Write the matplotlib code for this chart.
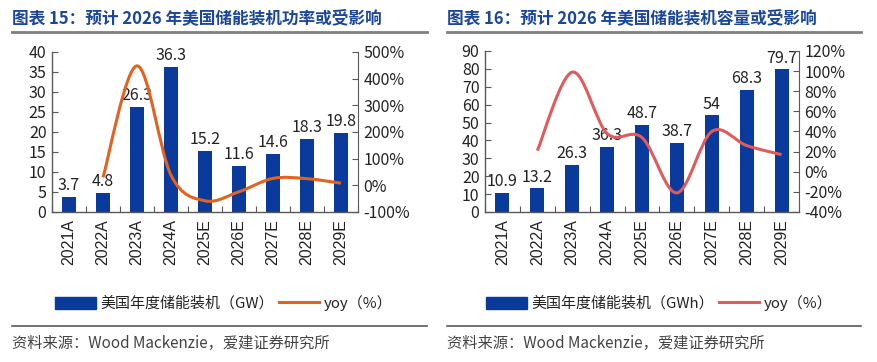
import matplotlib
matplotlib.use("Agg")
import matplotlib.pyplot as plt
from matplotlib.path import Path
from matplotlib.patches import PathPatch, Patch
from matplotlib.lines import Line2D

plt.rcParams['font.family'] = ['Noto Sans CJK SC', 'DejaVu Sans']

years = ['2021A', '2022A', '2023A', '2024A', '2025E', '2026E', '2027E', '2028E', '2029E']
power_gw = [3.7, 4.8, 26.3, 36.3, 15.2, 11.6, 14.6, 18.3, 19.8]
power_yoy = [None, 30, 448, 38, -58, -24, 26, 25, 8]
cap_gwh = [10.9, 13.2, 26.3, 36.3, 48.7, 38.7, 54, 68.3, 79.7]
cap_yoy = [None, 21, 99, 38, 34, -21, 40, 26, 17]

W, H = 877, 362
fig = plt.figure(figsize=(W / 100, H / 100), dpi=100)

BAR = '#0A3A9C'
AX = '#595959'
TITLE_C = '#1B479B'
TXT = '#222222'


def px(x0, y0, x1, y1):
    return [x0 / W, 1 - y1 / H, (x1 - x0) / W, (y1 - y0) / H]


def smooth_path(xs, ys):
    pts = list(zip(xs, ys))
    verts = [pts[0]]
    codes = [Path.MOVETO]
    n = len(pts)
    for i in range(n - 1):
        p0 = pts[i - 1] if i > 0 else pts[i]
        p1 = pts[i]
        p2 = pts[i + 1]
        p3 = pts[i + 2] if i + 2 < n else pts[i + 1]
        c1 = (p1[0] + (p2[0] - p0[0]) / 6, p1[1] + (p2[1] - p0[1]) / 6)
        c2 = (p2[0] - (p3[0] - p1[0]) / 6, p2[1] - (p3[1] - p1[1]) / 6)
        verts += [c1, c2, p2]
        codes += [Path.CURVE4] * 3
    return Path(verts, codes)


def panel(rect, bars, yoy, ymax, ystep, y2min, y2max, y2step, line_c,
          title, unit, leg_x, src_x0, src_x1):
    ax = fig.add_axes(px(*rect))
    x = list(range(len(years)))
    ax.bar(x, bars, width=0.4, color=BAR, zorder=2)
    ax.set_xlim(-0.5, len(years) - 0.5)
    ax.set_ylim(0, ymax)
    ax.set_yticks(range(0, ymax + 1, ystep))
    ax.set_xticks([i + 0.5 for i in range(-1, len(years))])
    ax.set_xticklabels([])
    ax.set_xticks(x, minor=True)
    ax.set_xticklabels(years, minor=True, rotation=90, fontsize=11.5, color=TXT,
                       family=['Liberation Sans', 'DejaVu Sans'])
    ax.tick_params(axis='x', which='minor', length=0, pad=5)
    ax.tick_params(axis='x', which='major', direction='in', length=4, color=AX)
    ax.tick_params(axis='y', direction='in', length=4, color=AX, labelsize=11.5,
                   labelcolor=TXT, pad=4)
    for s in ['top', 'right']:
        ax.spines[s].set_visible(False)
    for s in ['left', 'bottom']:
        ax.spines[s].set_color(AX)
        ax.spines[s].set_linewidth(1.0)
    for xi, v in zip(x, bars):
        lab = f'{v:g}'
        ax.annotate(lab, (xi, v), xytext=(0, 2), textcoords='offset points',
                    ha='center', va='bottom', fontsize=11.5, color=TXT,
                    zorder=1, annotation_clip=False)

    ax2 = ax.twinx()
    ax2.set_ylim(y2min, y2max)
    ax2.set_yticks(range(y2min, y2max + 1, y2step))
    ax2.set_yticklabels([f'{t}%' for t in range(y2min, y2max + 1, y2step)])
    ax2.tick_params(axis='y', direction='in', length=4, color=AX, labelsize=11.5,
                    labelcolor=TXT, pad=4)
    for s in ['top', 'left', 'bottom']:
        ax2.spines[s].set_visible(False)
    ax2.spines['right'].set_color(AX)
    xs = [xi for xi, v in zip(x, yoy) if v is not None]
    ys = [v for v in yoy if v is not None]
    ax2.add_patch(PathPatch(smooth_path(xs, ys), facecolor='none',
                            edgecolor=line_c, lw=2.2, zorder=3, capstyle='butt'))

    # title
    fig.text(src_x0 / W, 1 - 18 / H, title, fontsize=12, fontweight='bold',
             color=TITLE_C, va='center', ha='left')
    fig.add_artist(Line2D([src_x0 / W, src_x1 / W], [1 - 32 / H, 1 - 32 / H],
                          color='#7F7F7F', lw=2.0))
    # legend
    fig.legend(handles=[Patch(color=BAR, label=f'美国年度储能装机（{unit}）'),
                        Line2D([], [], color=line_c, lw=2.2, label='yoy（%）')],
               loc='center left', bbox_to_anchor=(leg_x / W, 1 - 303 / H),
               ncol=2, frameon=False, fontsize=10.8, handlelength=2.7,
               handleheight=0.9, handletextpad=0.3, columnspacing=0.35,
               borderpad=0, borderaxespad=0, labelcolor=TXT)
    # source
    fig.add_artist(Line2D([src_x0 / W, src_x1 / W], [1 - 326 / H, 1 - 326 / H],
                          color='#595959', lw=1.2))
    fig.text(src_x0 / W, 1 - 343 / H, '资料来源：Wood Mackenzie，爱建证券研究所',
             fontsize=11, color='#444444', va='center', ha='left')


panel((52, 52, 358, 212), power_gw, power_yoy, 40, 5, -100, 500, 100, '#E2621E',
      '图表 15：预计 2026 年美国储能装机功率或受影响', 'GW', 55, 12, 427)
panel((485, 51, 799, 212), cap_gwh, cap_yoy, 90, 10, -40, 120, 20, '#E05A5E',
      '图表 16：预计 2026 年美国储能装机容量或受影响', 'GWh', 486, 447, 861)

fig.savefig('out.png', dpi=100, facecolor='white')
